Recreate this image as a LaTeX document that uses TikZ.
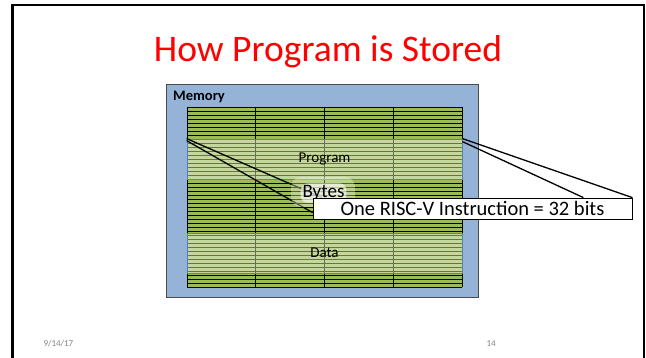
\documentclass[tikz,border=0pt]{standalone}
\usepackage{fontspec}
\setmainfont{Carlito}
\usetikzlibrary{calc}

\definecolor{memblue}{RGB}{149,179,215}
\definecolor{bytegreen}{RGB}{155,187,89}
\definecolor{bandblue}{RGB}{79,129,189}
\definecolor{titlered}{RGB}{255,0,0}

\pgfdeclarelayer{back}
\pgfdeclarelayer{mid}
\pgfsetlayers{back,mid,main}

\tikzset{
  band/.style={draw=bandblue, line width=0.8pt, fill=white, fill opacity=0.42, text opacity=1,
    minimum width=275pt, minimum height=40pt, inner sep=0pt, font=\fontsize{15}{17}\selectfont},
  callout/.style={draw=black, line width=0.8pt, fill=white, minimum width=319pt, minimum height=21pt,
    inner sep=0pt, font=\fontsize{20.5}{22}\selectfont},
  footer/.style={anchor=west, text=gray, font=\fontsize{9}{10}\selectfont}
}

\begin{document}
\begin{tikzpicture}[x=1pt,y=-1pt]

  \useasboundingbox (0,0) rectangle (646,358);

  % slide frame
  \draw[line width=2.2pt] (12.5,358) -- (12.5,5) -- (644,5) -- (644,358);

  % title
  \node[text=titlered, font=\fontsize{37.5}{40}\selectfont, anchor=base] (title) at (328,62) {How Program is Stored};

  \begin{pgfonlayer}{back}
    % memory box
    \draw[fill=memblue, draw=gray!60!black, line width=0.6pt] (166,84) rectangle (478,297);

    % byte rows
    \fill[bytegreen] (187,107) rectangle (462,287);
    \foreach \y in {0,...,45}
      \draw[line width=0.9pt] (187,107+4*\y) -- (462,107+4*\y);
    \foreach \x in {187,255.75,324.5,393.25,462}
      \draw[line width=0.9pt] (\x,107) -- (\x,287);

    % program and data regions
    \node[band] (prog) at (324.5,159) {Program};
    \node[band] (data) at (324.5,253) {Data};
  \end{pgfonlayer}

  \node[anchor=base west, inner sep=0pt, font=\fontsize{14.5}{16}\selectfont\bfseries] (mem) at (173,101) {Memory};

  % bytes label
  \node[fill=white, fill opacity=0.35, rounded corners=10pt, minimum width=64pt, minimum height=30pt] (glow) at (323,192) {};
  \node[fill=white, fill opacity=0.6, text opacity=1, rounded corners=7pt, inner sep=2pt,
    font=\fontsize{19}{21}\selectfont] (bytes) at (323.5,193) {Bytes};

  % one instruction
  \node[callout] (instr) at (472.5,208.5) {One RISC-V Instruction = 32 bits};

  % callout lines
  \begin{pgfonlayer}{mid}
    \draw[line width=1.3pt] (prog.north west) -- ($(instr.north west)+(9,0)$);
    \draw[line width=1.3pt] ($(prog.north west)+(0,2)$) -- ($(instr.north west)+(0,15)$);
    \draw[line width=1.3pt] (prog.north east) -- (instr.north east);
    \draw[line width=1.3pt] ($(prog.north east)+(0,3)$) -- ($(instr.north east)+(-49,0)$);
  \end{pgfonlayer}

  % footer
  \node[footer] (date) at (40,344) {9/14/17};
  \node[footer] (page) at (483,344) {14};

\end{tikzpicture}
\end{document}
